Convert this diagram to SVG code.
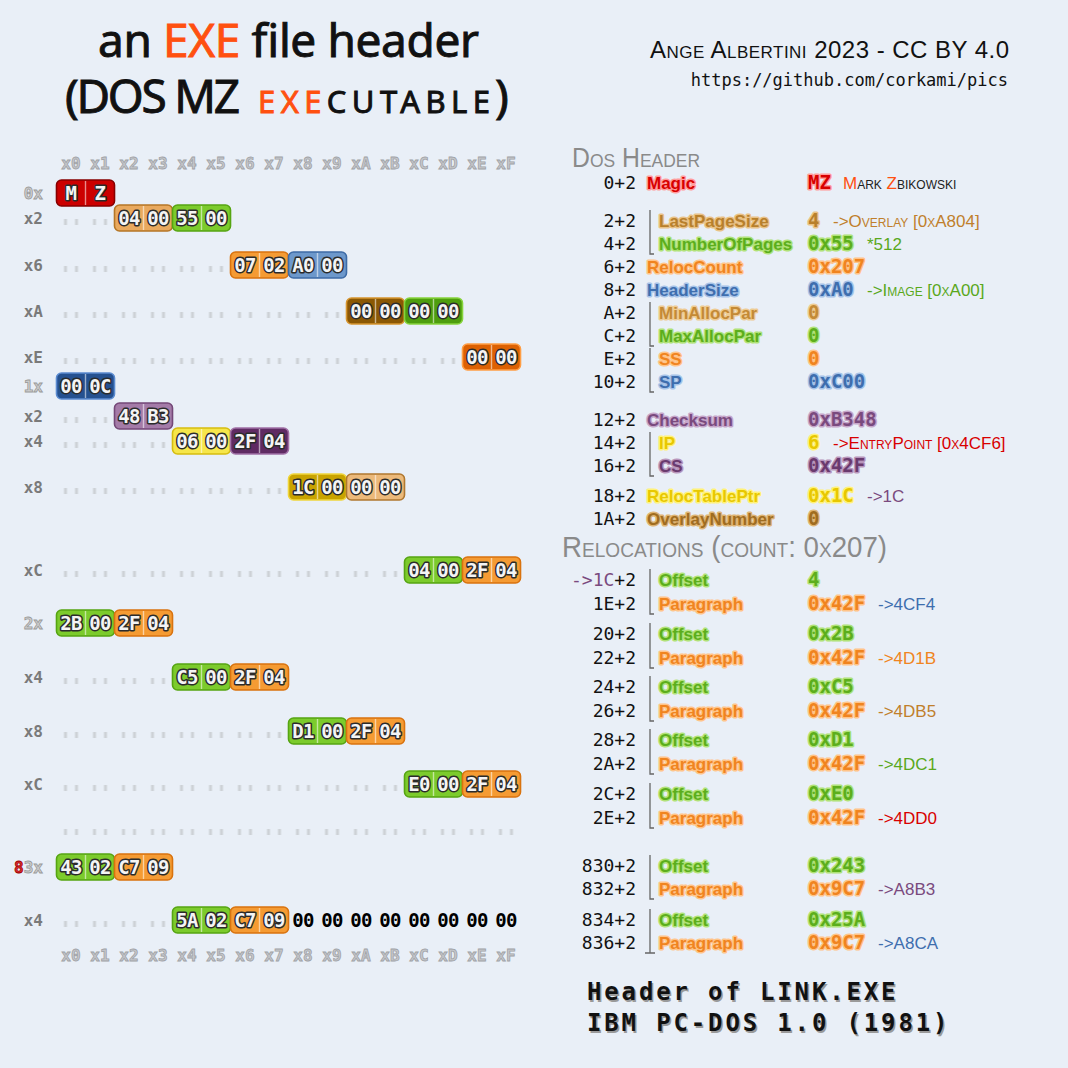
<svg xmlns="http://www.w3.org/2000/svg" width="1068" height="1068" viewBox="0 0 1068 1068">
<style>
.hx{font:bold 16px "DejaVu Sans Mono",monospace;fill:#c6c8cc;stroke:#a0a2a6;stroke-width:.8;text-anchor:middle}
.rl{font:bold 16px "DejaVu Sans Mono",monospace;fill:#7a7a7a;text-anchor:end}
.rl2{fill:#cfcfcf;stroke:#9a9a9a;stroke-width:.8}
.bx rect{stroke-width:1.6}
.sep{stroke:#ffffff;stroke-opacity:.55;stroke-width:1.4}
.by{font:bold 19px "DejaVu Sans Mono",monospace;letter-spacing:-0.6px;fill:#f4f4f4;stroke:#2b2b2b;stroke-width:3;paint-order:stroke;stroke-linejoin:round;text-anchor:middle}
.zz{font:bold 19px "DejaVu Sans Mono",monospace;letter-spacing:-0.6px;fill:#000;text-anchor:middle}
.of{font:18px "DejaVu Sans Mono",monospace;fill:#111;text-anchor:end}
.lb{font:bold 17px "Liberation Sans",Arial,sans-serif;stroke-width:3;paint-order:stroke;stroke-linejoin:round}
.vl{font:bold 19px "DejaVu Sans Mono",monospace;stroke-width:3;paint-order:stroke;stroke-linejoin:round}
.cm{font:17px "Liberation Sans",Arial,sans-serif;font-variant:small-caps}
.br{fill:none;stroke:#666;stroke-width:1.3}
.ttl{font-family:"Noto Sans","Liberation Sans",sans-serif;fill:#111;stroke:#111;stroke-width:.9}
.sc{font-family:"Liberation Sans",Arial,sans-serif;font-variant:small-caps}
.x-red{fill:#cc0000;stroke:#870000}
.x-tan{fill:#e9a95e;stroke:#b57626}
.x-grn{fill:#7ccb2c;stroke:#56a512}
.x-org{fill:#f59b33;stroke:#d9730f}
.x-blu{fill:#6d98cb;stroke:#3e6ba6}
.x-brn{fill:#8b5804;stroke:#d6952f}
.x-dgr{fill:#4e9e0e;stroke:#86d43c}
.x-dor{fill:#dd6102;stroke:#ff9e45}
.x-dbl{fill:#255190;stroke:#5b8bd0}
.x-lpu{fill:#a47ba8;stroke:#744878}
.x-yel{fill:#f6e64a;stroke:#d6bd10}
.x-dpu{fill:#5f2b63;stroke:#a070a6}
.x-mus{fill:#c9a300;stroke:#f0d63c}
.x-ltn{fill:#ecb97a;stroke:#b07830}
.k-red{fill:#d80000;stroke:#ff9c9c}
.k-tan{fill:#b8802c;stroke:#e9c287}
.k-grn{fill:#5cae1c;stroke:#b0e278}
.k-org{fill:#f08420;stroke:#ffc489}
.k-blu{fill:#3e6eae;stroke:#a6c3e8}
.k-mtn{fill:#c48a36;stroke:#eecb92}
.k-pur{fill:#7a4a7e;stroke:#c6a6ca}
.k-yel{fill:#e8c800;stroke:#fff27a}
.k-dpu{fill:#6a3a6e;stroke:#b896bc}
.k-brn{fill:#a06c20;stroke:#deb474}
</style>
<defs>
<pattern id="dots" patternUnits="userSpaceOnUse" x="56.5" y="0" width="29" height="1068">
<rect x="7.5" y="0" width="3" height="1068" fill="#cdd1d6"/>
<rect x="18.5" y="0" width="3" height="1068" fill="#cdd1d6"/>
</pattern>
</defs>
<rect width="1068" height="1068" fill="#e9eff7"/>

<g id="title">
<text class="ttl" x="98" y="57" font-size="46" textLength="381" lengthAdjust="spacing">an <tspan fill="#ff5010" stroke="#ff5010">EXE</tspan> file header</text>
<text class="ttl" x="65" y="113" font-size="46" textLength="175" lengthAdjust="spacing">(DOS MZ</text>
<text class="ttl" x="258" y="113" font-size="31" textLength="232" lengthAdjust="spacing"><tspan fill="#ff5010" stroke="#ff5010">EXE</tspan>CUTABLE</text>
<text class="ttl" x="495" y="113" font-size="46">)</text>
</g>
<g id="credits">
<text class="sc" x="650" y="58" font-size="24" fill="#111" textLength="359" lengthAdjust="spacing">Ange Albertini 2023 - CC BY 4.0</text>
<text x="1008" y="86" font-family="DejaVu Sans Mono,monospace" font-size="17" fill="#111" text-anchor="end">https://github.com/corkami/pics</text>
</g>

<g id="hex-columns">
<text class="hx" y="169"><tspan x="71">x0</tspan><tspan x="100">x1</tspan><tspan x="129">x2</tspan><tspan x="158">x3</tspan><tspan x="187">x4</tspan><tspan x="216">x5</tspan><tspan x="245">x6</tspan><tspan x="274">x7</tspan><tspan x="303">x8</tspan><tspan x="332">x9</tspan><tspan x="361">xA</tspan><tspan x="390">xB</tspan><tspan x="419">xC</tspan><tspan x="448">xD</tspan><tspan x="477">xE</tspan><tspan x="506">xF</tspan></text>
<text class="hx" y="961"><tspan x="71">x0</tspan><tspan x="100">x1</tspan><tspan x="129">x2</tspan><tspan x="158">x3</tspan><tspan x="187">x4</tspan><tspan x="216">x5</tspan><tspan x="245">x6</tspan><tspan x="274">x7</tspan><tspan x="303">x8</tspan><tspan x="332">x9</tspan><tspan x="361">xA</tspan><tspan x="390">xB</tspan><tspan x="419">xC</tspan><tspan x="448">xD</tspan><tspan x="477">xE</tspan><tspan x="506">xF</tspan></text>
</g>

<g id="row-labels">
<text class="rl rl2" x="43" y="199">0x</text>
<text class="rl" x="43" y="224">x2</text>
<text class="rl" x="43" y="271">x6</text>
<text class="rl" x="43" y="317">xA</text>
<text class="rl" x="43" y="363">xE</text>
<text class="rl rl2" x="43" y="392">1x</text>
<text class="rl" x="43" y="422">x2</text>
<text class="rl" x="43" y="447">x4</text>
<text class="rl" x="43" y="493">x8</text>
<text class="rl" x="43" y="576">xC</text>
<text class="rl rl2" x="43" y="629">2x</text>
<text class="rl" x="43" y="683">x4</text>
<text class="rl" x="43" y="737">x8</text>
<text class="rl" x="43" y="790">xC</text>
<text class="rl rl2" x="43" y="873"><tspan fill="#e03030" stroke="#a00000">8</tspan>3x</text>
<text class="rl" x="43" y="926">x4</text>
</g>

<g id="dots" fill="url(#dots)">
<rect x="56.5" y="219" width="58" height="6"/>
<rect x="56.5" y="266" width="174" height="6"/>
<rect x="56.5" y="312" width="290" height="6"/>
<rect x="56.5" y="358" width="406" height="6"/>
<rect x="56.5" y="417" width="58" height="6"/>
<rect x="56.5" y="442" width="116" height="6"/>
<rect x="56.5" y="488" width="232" height="6"/>
<rect x="56.5" y="571" width="348" height="6"/>
<rect x="56.5" y="678" width="116" height="6"/>
<rect x="56.5" y="732" width="232" height="6"/>
<rect x="56.5" y="785" width="348" height="6"/>
<rect x="56.5" y="829" width="464" height="6"/>
<rect x="56.5" y="921" width="116" height="6"/>
</g>

<g id="b-magic" class="bx"><rect class="x-red" x="56.5" y="180" width="58" height="26" rx="5"/><line class="sep" x1="85.5" y1="181" x2="85.5" y2="205"/><text class="by" y="200"><tspan x="71">M</tspan><tspan x="100">Z</tspan></text></g>
<g id="b-lastpagesize" class="bx"><rect class="x-tan" x="114.5" y="205" width="58" height="26" rx="5"/><line class="sep" x1="143.5" y1="206" x2="143.5" y2="230"/><text class="by" y="225"><tspan x="129">04</tspan><tspan x="158">00</tspan></text></g>
<g id="b-numberofpages" class="bx"><rect class="x-grn" x="172.5" y="205" width="58" height="26" rx="5"/><line class="sep" x1="201.5" y1="206" x2="201.5" y2="230"/><text class="by" y="225"><tspan x="187">55</tspan><tspan x="216">00</tspan></text></g>
<g id="b-reloccount" class="bx"><rect class="x-org" x="230.5" y="252" width="58" height="26" rx="5"/><line class="sep" x1="259.5" y1="253" x2="259.5" y2="277"/><text class="by" y="272"><tspan x="245">07</tspan><tspan x="274">02</tspan></text></g>
<g id="b-headersize" class="bx"><rect class="x-blu" x="288.5" y="252" width="58" height="26" rx="5"/><line class="sep" x1="317.5" y1="253" x2="317.5" y2="277"/><text class="by" y="272"><tspan x="303">A0</tspan><tspan x="332">00</tspan></text></g>
<g id="b-minallocpar" class="bx"><rect class="x-brn" x="346.5" y="298" width="58" height="26" rx="5"/><line class="sep" x1="375.5" y1="299" x2="375.5" y2="323"/><text class="by" y="318"><tspan x="361">00</tspan><tspan x="390">00</tspan></text></g>
<g id="b-maxallocpar" class="bx"><rect class="x-dgr" x="404.5" y="298" width="58" height="26" rx="5"/><line class="sep" x1="433.5" y1="299" x2="433.5" y2="323"/><text class="by" y="318"><tspan x="419">00</tspan><tspan x="448">00</tspan></text></g>
<g id="b-ss" class="bx"><rect class="x-dor" x="462.5" y="344" width="58" height="26" rx="5"/><line class="sep" x1="491.5" y1="345" x2="491.5" y2="369"/><text class="by" y="364"><tspan x="477">00</tspan><tspan x="506">00</tspan></text></g>
<g id="b-sp" class="bx"><rect class="x-dbl" x="56.5" y="373" width="58" height="26" rx="5"/><line class="sep" x1="85.5" y1="374" x2="85.5" y2="398"/><text class="by" y="393"><tspan x="71">00</tspan><tspan x="100">0C</tspan></text></g>
<g id="b-checksum" class="bx"><rect class="x-lpu" x="114.5" y="403" width="58" height="26" rx="5"/><line class="sep" x1="143.5" y1="404" x2="143.5" y2="428"/><text class="by" y="423"><tspan x="129">48</tspan><tspan x="158">B3</tspan></text></g>
<g id="b-ip" class="bx"><rect class="x-yel" x="172.5" y="428" width="58" height="26" rx="5"/><line class="sep" x1="201.5" y1="429" x2="201.5" y2="453"/><text class="by" y="448"><tspan x="187">06</tspan><tspan x="216">00</tspan></text></g>
<g id="b-cs" class="bx"><rect class="x-dpu" x="230.5" y="428" width="58" height="26" rx="5"/><line class="sep" x1="259.5" y1="429" x2="259.5" y2="453"/><text class="by" y="448"><tspan x="245">2F</tspan><tspan x="274">04</tspan></text></g>
<g id="b-reloctableptr" class="bx"><rect class="x-mus" x="288.5" y="474" width="58" height="26" rx="5"/><line class="sep" x1="317.5" y1="475" x2="317.5" y2="499"/><text class="by" y="494"><tspan x="303">1C</tspan><tspan x="332">00</tspan></text></g>
<g id="b-overlaynumber" class="bx"><rect class="x-ltn" x="346.5" y="474" width="58" height="26" rx="5"/><line class="sep" x1="375.5" y1="475" x2="375.5" y2="499"/><text class="by" y="494"><tspan x="361">00</tspan><tspan x="390">00</tspan></text></g>

<g id="b-reloc0" class="bx"><rect class="x-grn" x="404.5" y="557" width="58" height="26" rx="5"/><line class="sep" x1="433.5" y1="558" x2="433.5" y2="582"/><rect class="x-org" x="462.5" y="557" width="58" height="26" rx="5"/><line class="sep" x1="491.5" y1="558" x2="491.5" y2="582"/><text class="by" y="577"><tspan x="419">04</tspan><tspan x="448">00</tspan><tspan x="477">2F</tspan><tspan x="506">04</tspan></text></g>
<g id="b-reloc1" class="bx"><rect class="x-grn" x="56.5" y="610" width="58" height="26" rx="5"/><line class="sep" x1="85.5" y1="611" x2="85.5" y2="635"/><rect class="x-org" x="114.5" y="610" width="58" height="26" rx="5"/><line class="sep" x1="143.5" y1="611" x2="143.5" y2="635"/><text class="by" y="630"><tspan x="71">2B</tspan><tspan x="100">00</tspan><tspan x="129">2F</tspan><tspan x="158">04</tspan></text></g>
<g id="b-reloc2" class="bx"><rect class="x-grn" x="172.5" y="664" width="58" height="26" rx="5"/><line class="sep" x1="201.5" y1="665" x2="201.5" y2="689"/><rect class="x-org" x="230.5" y="664" width="58" height="26" rx="5"/><line class="sep" x1="259.5" y1="665" x2="259.5" y2="689"/><text class="by" y="684"><tspan x="187">C5</tspan><tspan x="216">00</tspan><tspan x="245">2F</tspan><tspan x="274">04</tspan></text></g>
<g id="b-reloc3" class="bx"><rect class="x-grn" x="288.5" y="718" width="58" height="26" rx="5"/><line class="sep" x1="317.5" y1="719" x2="317.5" y2="743"/><rect class="x-org" x="346.5" y="718" width="58" height="26" rx="5"/><line class="sep" x1="375.5" y1="719" x2="375.5" y2="743"/><text class="by" y="738"><tspan x="303">D1</tspan><tspan x="332">00</tspan><tspan x="361">2F</tspan><tspan x="390">04</tspan></text></g>
<g id="b-reloc4" class="bx"><rect class="x-grn" x="404.5" y="771" width="58" height="26" rx="5"/><line class="sep" x1="433.5" y1="772" x2="433.5" y2="796"/><rect class="x-org" x="462.5" y="771" width="58" height="26" rx="5"/><line class="sep" x1="491.5" y1="772" x2="491.5" y2="796"/><text class="by" y="791"><tspan x="419">E0</tspan><tspan x="448">00</tspan><tspan x="477">2F</tspan><tspan x="506">04</tspan></text></g>
<g id="b-reloc-830" class="bx"><rect class="x-grn" x="56.5" y="854" width="58" height="26" rx="5"/><line class="sep" x1="85.5" y1="855" x2="85.5" y2="879"/><rect class="x-org" x="114.5" y="854" width="58" height="26" rx="5"/><line class="sep" x1="143.5" y1="855" x2="143.5" y2="879"/><text class="by" y="874"><tspan x="71">43</tspan><tspan x="100">02</tspan><tspan x="129">C7</tspan><tspan x="158">09</tspan></text></g>
<g id="b-reloc-834" class="bx"><rect class="x-grn" x="172.5" y="907" width="58" height="26" rx="5"/><line class="sep" x1="201.5" y1="908" x2="201.5" y2="932"/><rect class="x-org" x="230.5" y="907" width="58" height="26" rx="5"/><line class="sep" x1="259.5" y1="908" x2="259.5" y2="932"/><text class="by" y="927"><tspan x="187">5A</tspan><tspan x="216">02</tspan><tspan x="245">C7</tspan><tspan x="274">09</tspan></text></g>
<g id="b-padding"><text class="zz" y="927"><tspan x="303">00</tspan><tspan x="332">00</tspan><tspan x="361">00</tspan><tspan x="390">00</tspan><tspan x="419">00</tspan><tspan x="448">00</tspan><tspan x="477">00</tspan><tspan x="506">00</tspan></text></g>

<g id="dos-header">
<text class="sc" x="572" y="167" font-size="27" fill="#8a8a8a" textLength="128" lengthAdjust="spacingAndGlyphs">Dos Header</text>
<g id="f-magic"><text class="of" x="636" y="189">0+2</text><text class="lb k-red" x="647" y="189">Magic</text><text class="vl k-red" x="808" y="189">MZ</text><text class="cm" x="843" y="189" fill="#222"><tspan fill="#ff5010">M</tspan>ark <tspan fill="#ff5010">Z</tspan>bikowski</text></g>
<g id="f-lastpagesize"><text class="of" x="636" y="227">2+2</text><text class="lb k-tan" x="659" y="227">LastPageSize</text><text class="vl k-tan" x="808" y="227">4</text><text class="cm" x="833" y="227" fill="#c07f2c">-&gt;Overlay [0xA804]</text></g>
<g id="f-numberofpages"><text class="of" x="636" y="250">4+2</text><text class="lb k-grn" x="659" y="250">NumberOfPages</text><text class="vl k-grn" x="808" y="250">0x55</text><text class="cm" x="867" y="250" fill="#5aa81c">*512</text></g>
<g id="f-reloccount"><text class="of" x="636" y="273">6+2</text><text class="lb k-org" x="647" y="273">RelocCount</text><text class="vl k-org" x="808" y="273">0x207</text></g>
<g id="f-headersize"><text class="of" x="636" y="296">8+2</text><text class="lb k-blu" x="647" y="296">HeaderSize</text><text class="vl k-blu" x="808" y="296">0xA0</text><text class="cm" x="867" y="296" fill="#5aa81c">-&gt;Image [0xA00]</text></g>
<g id="f-minallocpar"><text class="of" x="636" y="319">A+2</text><text class="lb k-mtn" x="659" y="319">MinAllocPar</text><text class="vl k-mtn" x="808" y="319">0</text></g>
<g id="f-maxallocpar"><text class="of" x="636" y="342">C+2</text><text class="lb k-grn" x="659" y="342">MaxAllocPar</text><text class="vl k-grn" x="808" y="342">0</text></g>
<g id="f-ss"><text class="of" x="636" y="365">E+2</text><text class="lb k-org" x="659" y="365">SS</text><text class="vl k-org" x="808" y="365">0</text></g>
<g id="f-sp"><text class="of" x="636" y="388">10+2</text><text class="lb k-blu" x="659" y="388">SP</text><text class="vl k-blu" x="808" y="388">0xC00</text></g>
<g id="f-checksum"><text class="of" x="636" y="426">12+2</text><text class="lb k-pur" x="647" y="426">Checksum</text><text class="vl k-pur" x="808" y="426">0xB348</text></g>
<g id="f-ip"><text class="of" x="636" y="449">14+2</text><text class="lb k-yel" x="659" y="449">IP</text><text class="vl k-yel" x="808" y="449">6</text><text class="cm" x="833" y="449" fill="#d80000">-&gt;EntryPoint [0x4CF6]</text></g>
<g id="f-cs"><text class="of" x="636" y="472">16+2</text><text class="lb k-dpu" x="659" y="472">CS</text><text class="vl k-dpu" x="808" y="472">0x42F</text></g>
<g id="f-reloctableptr"><text class="of" x="636" y="502">18+2</text><text class="lb k-yel" x="647" y="502">RelocTablePtr</text><text class="vl k-yel" x="808" y="502">0x1C</text><text class="cm" x="867" y="502" fill="#7a4a7e">-&gt;1C</text></g>
<g id="f-overlaynumber"><text class="of" x="636" y="525">1A+2</text><text class="lb k-brn" x="647" y="525">OverlayNumber</text><text class="vl k-brn" x="808" y="525">0</text></g>
</g>

<g id="relocations">
<text class="sc" x="562" y="557" font-size="29" fill="#8a8a8a" textLength="325" lengthAdjust="spacingAndGlyphs">Relocations (count: 0x207)</text>
<g id="r0"><text class="of" x="636" y="586"><tspan fill="#7a4a7e">-&gt;1C</tspan>+2</text><text class="lb k-grn" x="659" y="586">Offset</text><text class="vl k-grn" x="808" y="586">4</text>
<text class="of" x="636" y="610">1E+2</text><text class="lb k-org" x="659" y="610">Paragraph</text><text class="vl k-org" x="808" y="610">0x42F</text><text class="cm" x="878" y="610" fill="#3e6eae">-&gt;4CF4</text></g>
<g id="r1"><text class="of" x="636" y="640">20+2</text><text class="lb k-grn" x="659" y="640">Offset</text><text class="vl k-grn" x="808" y="640">0x2B</text>
<text class="of" x="636" y="664">22+2</text><text class="lb k-org" x="659" y="664">Paragraph</text><text class="vl k-org" x="808" y="664">0x42F</text><text class="cm" x="878" y="664" fill="#f08420">-&gt;4D1B</text></g>
<g id="r2"><text class="of" x="636" y="693">24+2</text><text class="lb k-grn" x="659" y="693">Offset</text><text class="vl k-grn" x="808" y="693">0xC5</text>
<text class="of" x="636" y="717">26+2</text><text class="lb k-org" x="659" y="717">Paragraph</text><text class="vl k-org" x="808" y="717">0x42F</text><text class="cm" x="878" y="717" fill="#c07f2c">-&gt;4DB5</text></g>
<g id="r3"><text class="of" x="636" y="746">28+2</text><text class="lb k-grn" x="659" y="746">Offset</text><text class="vl k-grn" x="808" y="746">0xD1</text>
<text class="of" x="636" y="770">2A+2</text><text class="lb k-org" x="659" y="770">Paragraph</text><text class="vl k-org" x="808" y="770">0x42F</text><text class="cm" x="878" y="770" fill="#5aa81c">-&gt;4DC1</text></g>
<g id="r4"><text class="of" x="636" y="800">2C+2</text><text class="lb k-grn" x="659" y="800">Offset</text><text class="vl k-grn" x="808" y="800">0xE0</text>
<text class="of" x="636" y="824">2E+2</text><text class="lb k-org" x="659" y="824">Paragraph</text><text class="vl k-org" x="808" y="824">0x42F</text><text class="cm" x="878" y="824" fill="#d80000">-&gt;4DD0</text></g>
<g id="r830"><text class="of" x="636" y="872">830+2</text><text class="lb k-grn" x="659" y="872">Offset</text><text class="vl k-grn" x="808" y="872">0x243</text>
<text class="of" x="636" y="895">832+2</text><text class="lb k-org" x="659" y="895">Paragraph</text><text class="vl k-org" x="808" y="895">0x9C7</text><text class="cm" x="878" y="895" fill="#7a4a7e">-&gt;A8B3</text></g>
<g id="r834"><text class="of" x="636" y="926">834+2</text><text class="lb k-grn" x="659" y="926">Offset</text><text class="vl k-grn" x="808" y="926">0x25A</text>
<text class="of" x="636" y="949">836+2</text><text class="lb k-org" x="659" y="949">Paragraph</text><text class="vl k-org" x="808" y="949">0x9C7</text><text class="cm" x="878" y="949" fill="#3e6eae">-&gt;A8CA</text></g>
</g>

<g id="brackets" class="br">
<path d="M650,210V254h4"/>
<path d="M650,302V346h4"/>
<path d="M650,348V392h4"/>
<path d="M650,432V476h4"/>
<path d="M650,569V614h4"/>
<path d="M650,623V668h4"/>
<path d="M650,676V721h4"/>
<path d="M650,729V774h4"/>
<path d="M650,783V828h4"/>
<path d="M650,855V899h4"/>
<path d="M650,909V953M645,953H655"/>
</g>

<g id="footer" font-family="DejaVu Sans Mono,monospace" font-weight="bold" font-size="24" letter-spacing="2.85">
<text x="588.5" y="1001.5" fill="#9a9a9a">Header of LINK.EXE</text>
<text x="588.5" y="1032.5" fill="#9a9a9a">IBM PC-DOS 1.0 (1981)</text>
<text x="587" y="1000" fill="#111">Header of LINK.EXE</text>
<text x="587" y="1031" fill="#111">IBM PC-DOS 1.0 (1981)</text>
</g>
</svg>
